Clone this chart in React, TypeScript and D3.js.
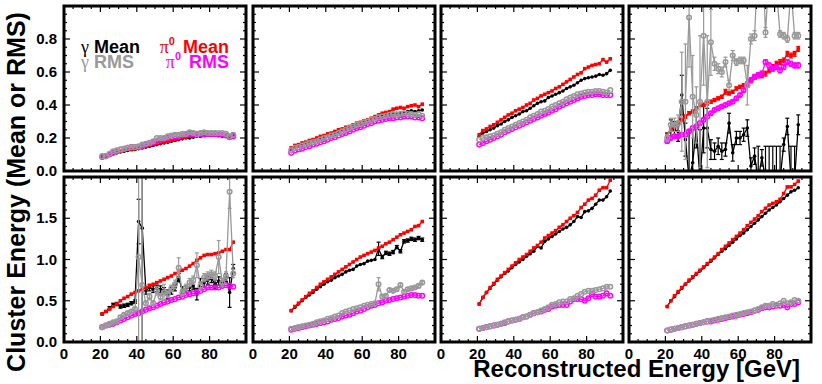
import React, { useEffect, useRef } from 'react';
import * as d3 from 'd3';

// reconstructed energy bin centres [GeV]
const energies = [21, 23, 25, 27, 29, 31, 33, 35, 37, 39, 41, 43, 45, 47, 49, 51, 53, 55, 57, 59, 61, 63, 65, 67, 69, 71, 73, 75, 77, 79, 81, 83, 85, 87, 89, 91, 93];

// top row, panel 1
const gMeanA = [.085, .09, .10, .105, .11, .115, .12, .125, .13, .13, .135, .14, .145, .15, .155, .16, .165, .17, .175, .18, .185, .19, .195, .20, .20, .205, .21, .21, .215, .215, .215, .215, .215, .21, .21, .205, .215];
const gRmsA = [.09, .09, .105, .12, .125, .13, .135, .14, .145, .145, .15, .16, .165, .17, .18, .20, .20, .20, .21, .215, .22, .22, .225, .225, .235, .23, .225, .23, .235, .23, .23, .23, .23, .23, .225, .21, .22];
const pMeanA = [.085, .09, .10, .11, .115, .12, .125, .13, .13, .135, .14, .145, .15, .155, .16, .165, .17, .175, .18, .185, .19, .195, .20, .205, .21, .21, .215, .215, .215, .22, .22, .22, .22, .22, .215, .215, .225];
const pRmsA = [.085, .09, .10, .11, .12, .13, .135, .14, .145, .145, .145, .15, .16, .17, .175, .18, .19, .195, .20, .205, .21, .21, .215, .22, .225, .225, .22, .225, .225, .225, .225, .225, .22, .22, .215, .205, .21];

// top row, panel 2
const gMeanB = [.135, .15, .155, .165, .17, .18, .19, .195, .205, .21, .22, .225, .235, .24, .25, .255, .265, .275, .28, .29, .30, .305, .31, .32, .325, .33, .335, .34, .345, .35, .35, .355, .36, .365, .36, .365, .37];
const gRmsB = [.125, .14, .145, .155, .16, .17, .175, .18, .19, .20, .205, .215, .22, .23, .24, .25, .26, .27, .28, .285, .295, .30, .31, .315, .325, .33, .335, .34, .345, .34, .345, .35, .345, .345, .34, .345, .335];
const pMeanB = [.14, .155, .16, .17, .175, .185, .19, .20, .21, .215, .225, .23, .24, .25, .255, .265, .27, .28, .29, .295, .305, .31, .32, .33, .34, .35, .355, .36, .375, .38, .385, .38, .39, .395, .40, .39, .405];
const pRmsB = [.11, .125, .13, .135, .145, .15, .16, .165, .175, .18, .19, .20, .205, .215, .225, .23, .24, .25, .26, .265, .275, .285, .29, .30, .305, .31, .315, .32, .32, .325, .325, .33, .33, .33, .325, .325, .32];

// top row, panel 3
const gMeanC = [.21, .23, .24, .25, .26, .275, .285, .30, .31, .325, .335, .345, .36, .365, .38, .395, .41, .42, .425, .445, .455, .465, .475, .485, .50, .51, .52, .535, .55, .56, .565, .57, .575, .585, .58, .59, .61];
const gRmsC = [.19, .20, .205, .21, .215, .225, .235, .25, .26, .27, .28, .29, .30, .31, .325, .335, .345, .36, .365, .375, .39, .40, .41, .42, .435, .445, .455, .465, .47, .475, .48, .48, .485, .485, .48, .475, .49];
const pMeanC = [.22, .245, .255, .27, .28, .295, .31, .325, .34, .35, .365, .375, .385, .40, .41, .43, .44, .455, .465, .475, .485, .50, .51, .525, .54, .555, .57, .585, .595, .62, .63, .64, .645, .65, .675, .66, .68];
const pRmsC = [.16, .17, .18, .19, .20, .21, .22, .235, .245, .255, .265, .275, .285, .295, .305, .315, .325, .335, .345, .355, .365, .375, .39, .40, .41, .42, .43, .44, .45, .455, .46, .46, .465, .465, .46, .46, .46];

// top row, panel 4
const gMeanD = [.21, .26, .25, .24, .46, .19, -.05, .05, .26, -.05, .26, .26, .13, .12, .15, .12, .13, .29, .11, .20, .20, .22, .26, .03, .09, -.05, .08, -.05, -.05, -.05, -.05, -.05, .16, .27, -.05, -.05, .28];
const gMeanErrD = [.02, .05, .05, .06, .12, .1, .3, .2, .12, .3, .15, .12, .06, .05, .05, .05, .04, .06, .05, .04, .04, .04, .05, .05, .05, .2, .05, .2, .2, .2, .2, .2, .04, .05, .2, .2, .06];
const gRmsD = [.20, .28, .28, .29, .42, .42, .93, .45, .34, .42, .82, .42, .78, .65, .62, .60, .66, .52, .70, .66, .67, .67, .52, .80, .82, 1.3, 1.4, .84, 1.2, 1.3, 1.1, .83, .82, .80, 1.1, .82, .82];
const gRmsErrD = [.02, .04, .04, .05, .3, .35, .3, .25, .17, .4, .3, .4, .2, .04, .03, .03, .03, .03, .03, .02, .02, .02, .12, .03, .03, .1, .1, .03, .1, .1, .1, .02, .02, .02, .1, .02, .02];
const pMeanD = [.22, .25, .27, .29, .31, .33, .35, .36, .38, .40, .40, .41, .42, .43, .44, .45, .48, .47, .48, .50, .51, .52, .53, .55, .57, .58, .58, .59, .61, .63, .65, .66, .67, .71, .70, .71, .74];
const pMeanErrD = [.01, .01, .01, .01, .01, .01, .01, .01, .01, .01, .01, .01, .01, .01, .01, .01, .015, .01, .01, .01, .01, .01, .01, .015, .015, .015, .015, .015, .015, .015, .015, .015, .015, .015, .015, .015, .015];
const pRmsD = [.18, .20, .21, .21, .22, .22, .24, .26, .27, .29, .31, .33, .35, .37, .38, .39, .40, .41, .42, .44, .46, .49, .52, .55, .57, .58, .59, .66, .64, .62, .63, .61, .63, .66, .65, .64, .64];
const pRmsErrD = [.01, .01, .01, .01, .01, .01, .01, .01, .01, .01, .01, .01, .01, .01, .01, .01, .01, .01, .01, .01, .01, .01, .01, .015, .015, .015, .015, .015, .015, .015, .015, .015, .015, .015, .015, .015, .015];

// bottom row, panel 1
const gMeanE = [.34, .37, .41, .45, .46, .43, .44, .45, .47, .49, 1.46, 1.38, .62, .66, .64, .65, .64, .62, .58, .62, .66, .78, .63, .64, .66, .68, .58, .72, .72, .75, .77, .70, .74, .72, .78, .60, .89];
const gMeanErrE = [.01, .01, .02, .02, .02, .02, .02, .02, .02, .02, .27, 1.6, .04, .04, .04, .04, .04, .04, .05, .04, .04, .05, .04, .04, .04, .04, .07, .05, .05, .05, .05, .05, .05, .05, .05, .18, .05];
const gRmsE = [.18, .20, .22, .24, .25, .30, .33, .35, .37, .40, 1.03, .69, .47, .55, .47, .62, .55, .60, .58, .65, .70, .90, .60, .66, .72, .75, .93, .68, .78, .80, .82, .80, 1.03, .72, .80, 1.82, .83];
const gRmsErrE = [.01, .01, .01, .01, .01, .02, .02, .02, .02, .02, 1.6, 1.6, .03, .04, .03, .05, .04, .1, .04, .04, .05, .12, .04, .04, .05, .05, .15, .05, .05, .05, .05, .05, .2, .05, .05, .2, .05];
const pMeanE = [.34, .37, .40, .43, .46, .50, .53, .55, .58, .60, .62, .64, .66, .68, .70, .72, .74, .76, .78, .80, .83, .85, .87, .89, .92, .95, .99, 1.02, 1.05, 1.06, 1.06, 1.07, 1.08, 1.10, 1.12, 1.12, 1.21];
const pRmsE = [.18, .20, .21, .22, .24, .26, .28, .30, .32, .34, .35, .37, .39, .41, .42, .44, .46, .48, .49, .51, .52, .54, .55, .57, .58, .59, .60, .62, .64, .66, .66, .66, .66, .68, .69, .68, .67];

// bottom row, panel 2
const gMeanF = [.38, .42, .46, .50, .54, .57, .60, .64, .67, .70, .73, .75, .78, .80, .82, .85, .87, .88, .92, .94, .95, .98, .99, 1.00, 1.13, 1.03, 1.08, 1.07, 1.09, 1.15, 1.10, 1.22, 1.23, 1.25, 1.24, 1.26, 1.24];
const gMeanErrF = [0, 0, 0, 0, 0, 0, 0, 0, 0, 0, 0, 0, 0, 0, 0, 0, 0, 0, 0, 0, 0, 0, 0, 0, .08, .02, .02, .02, .02, .02, .02, .02, .02, .02, .02, .02, .02];
const gRmsF = [.16, .17, .18, .19, .20, .21, .22, .24, .25, .26, .28, .29, .31, .32, .35, .37, .38, .40, .41, .42, .44, .45, .46, .47, .70, .55, .56, .63, .62, .64, .69, .61, .64, .65, .66, .68, .72];
const gRmsErrF = [0, 0, 0, 0, 0, 0, 0, 0, 0, 0, 0, 0, 0, 0, 0, 0, 0, 0, 0, 0, 0, 0, 0, 0, .08, .02, .02, .02, .02, .02, .02, .02, .02, .02, .02, .02, .02];
const pMeanF = [.38, .43, .47, .51, .55, .59, .62, .66, .70, .73, .76, .79, .82, .85, .88, .91, .94, .97, 1.00, 1.03, 1.05, 1.07, 1.09, 1.11, 1.14, 1.16, 1.19, 1.21, 1.24, 1.27, 1.30, 1.32, 1.34, 1.36, 1.40, 1.41, 1.46];
const pRmsF = [.15, .16, .17, .18, .19, .20, .21, .22, .23, .24, .25, .27, .28, .29, .31, .32, .33, .35, .37, .38, .40, .42, .44, .45, .47, .48, .50, .51, .52, .53, .54, .55, .56, .57, .57, .56, .56];

// bottom row, panel 3
const gMeanG = [.46, .54, .60, .65, .70, .75, .79, .83, .86, .90, .94, .97, 1.00, 1.04, 1.07, 1.10, 1.16, 1.14, 1.22, 1.25, 1.28, 1.31, 1.34, 1.37, 1.39, 1.42, 1.46, 1.52, 1.51, 1.58, 1.59, 1.62, 1.67, 1.72, 1.72, 1.76, 1.83];
const gRmsG = [.16, .17, .18, .19, .20, .21, .22, .24, .25, .26, .27, .28, .30, .31, .33, .35, .36, .38, .40, .42, .45, .46, .48, .49, .49, .52, .53, .56, .58, .61, .62, .62, .63, .64, .65, .67, .67];
const pMeanG = [.46, .54, .60, .66, .71, .76, .80, .84, .88, .92, .96, 1.00, 1.03, 1.06, 1.10, 1.14, 1.17, 1.21, 1.26, 1.29, 1.32, 1.35, 1.39, 1.42, 1.46, 1.50, 1.53, 1.57, 1.63, 1.67, 1.72, 1.74, 1.78, 1.84, 1.87, 1.87, 1.96];
const pRmsG = [.16, .17, .18, .19, .20, .21, .22, .23, .25, .26, .27, .28, .30, .31, .33, .35, .36, .37, .39, .40, .43, .44, .45, .45, .45, .49, .52, .52, .52, .50, .53, .58, .55, .55, .56, .59, .56];

// bottom row, panel 4
const gMeanH = [.43, .50, .55, .60, .65, .70, .74, .78, .82, .86, .90, .94, .98, 1.02, 1.06, 1.10, 1.13, 1.17, 1.21, 1.25, 1.29, 1.32, 1.36, 1.40, 1.44, 1.48, 1.52, 1.56, 1.60, 1.63, 1.66, 1.70, 1.74, 1.78, 1.82, 1.84, 1.87];
const gRmsH = [.14, .15, .16, .17, .18, .19, .20, .21, .22, .23, .24, .25, .26, .27, .28, .29, .30, .31, .32, .33, .34, .35, .36, .37, .38, .40, .42, .44, .44, .46, .45, .47, .50, .47, .48, .51, .50];
const pMeanH = [.43, .50, .56, .61, .66, .70, .75, .79, .83, .87, .91, .95, .99, 1.03, 1.07, 1.12, 1.16, 1.20, 1.24, 1.28, 1.32, 1.36, 1.41, 1.45, 1.49, 1.53, 1.58, 1.62, 1.66, 1.68, 1.70, 1.73, 1.80, 1.88, 1.88, 1.91, 1.95];
const pRmsH = [.14, .15, .16, .17, .18, .19, .20, .21, .22, .23, .24, .25, .25, .26, .27, .28, .29, .30, .31, .32, .33, .34, .35, .36, .38, .39, .41, .42, .42, .43, .44, .44, .45, .42, .46, .46, .48];

const xMajor = [0, 20, 40, 60, 80, 100];
const xLabels = ['0', '20', '40', '60', '80'];
const yMajorTop = [0, 0.2, 0.4, 0.6, 0.8, 1.0];
const yLabelsTop = ['0.0', '0.2', '0.4', '0.6', '0.8'];
const yMajorBottom = [0, 0.5, 1.0, 1.5, 2.0];
const yLabelsBottom = ['0.0', '0.5', '1.0', '1.5'];

const GAMMA_MEAN = '#000000';
const GAMMA_RMS = '#999999';
const PI_MEAN = '#ff0000';
const PI_RMS = '#ff00ff';

const panels = [
  { gm: gMeanA, gr: gRmsA, pm: pMeanA, pr: pRmsA },
  { gm: gMeanB, gr: gRmsB, pm: pMeanB, pr: pRmsB },
  { gm: gMeanC, gr: gRmsC, pm: pMeanC, pr: pRmsC },
  { gm: gMeanD, gr: gRmsD, pm: pMeanD, pr: pRmsD, gmErr: gMeanErrD, grErr: gRmsErrD, pmErr: pMeanErrD, prErr: pRmsErrD },
  { gm: gMeanE, gr: gRmsE, pm: pMeanE, pr: pRmsE, gmErr: gMeanErrE, grErr: gRmsErrE },
  { gm: gMeanF, gr: gRmsF, pm: pMeanF, pr: pRmsF, gmErr: gMeanErrF, grErr: gRmsErrF },
  { gm: gMeanG, gr: gRmsG, pm: pMeanG, pr: pRmsG },
  { gm: gMeanH, gr: gRmsH, pm: pMeanH, pr: pRmsH },
];

const W = 822;
const H = 384;
const colX = [64, 253, 441, 629];
const rowY = [6, 177];
const PW = 182;
const PH = 165;
const SANS = '"Liberation Sans", Arial, Helvetica, sans-serif';
const SERIF = '"Liberation Serif", "Times New Roman", serif';

const App = () => {
  const svgRef = useRef(null);

  useEffect(() => {
    const svg = d3.select(svgRef.current);
    svg.selectAll('*').remove();

    panels.forEach((p, i) => {
      const col = i % 4;
      const row = Math.floor(i / 4);
      const x0 = colX[col];
      const y0 = rowY[row];
      const x = d3.scaleLinear().domain([0, 100]).range([x0, x0 + PW]);
      const y = d3.scaleLinear().domain(row === 0 ? [0, 1] : [0, 2]).range([y0 + PH, y0]);

      const clipId = `clip-${i}`;
      svg.append('clipPath').attr('id', clipId)
        .append('rect').attr('x', x0).attr('y', y0).attr('width', PW).attr('height', PH);

      const g = svg.append('g').attr('clip-path', `url(#${clipId})`);

      const series = [
        { v: p.gm, e: p.gmErr, color: GAMMA_MEAN, marker: 'dot' },
        { v: p.pm, e: p.pmErr, color: PI_MEAN, marker: 'square' },
        { v: p.pr, e: p.prErr, color: PI_RMS, marker: 'ring' },
        { v: p.gr, e: p.grErr, color: GAMMA_RMS, marker: 'ring' },
      ];

      series.forEach(s => {
        const pts = energies.map((e, k) => ({ x: e, y: s.v[k], err: s.e ? s.e[k] : 0 }));
        const line = d3.line().x(d => x(d.x)).y(d => y(d.y));

        g.append('path').datum(pts)
          .attr('d', line)
          .attr('fill', 'none')
          .attr('stroke', s.color)
          .attr('stroke-width', 1.3);

        pts.filter(d => d.err > 0).forEach(d => {
          const cx = x(d.x);
          g.append('line')
            .attr('x1', cx).attr('x2', cx)
            .attr('y1', y(d.y - d.err)).attr('y2', y(d.y + d.err))
            .attr('stroke', s.color).attr('stroke-width', 1.2);
          [d.y - d.err, d.y + d.err].forEach(v => {
            g.append('line')
              .attr('x1', cx - 2).attr('x2', cx + 2)
              .attr('y1', y(v)).attr('y2', y(v))
              .attr('stroke', s.color).attr('stroke-width', 1.2);
          });
        });

        if (s.marker === 'dot') {
          g.selectAll(null).data(pts).enter().append('circle')
            .attr('cx', d => x(d.x)).attr('cy', d => y(d.y)).attr('r', 1.8)
            .attr('fill', s.color);
        } else if (s.marker === 'square') {
          g.selectAll(null).data(pts).enter().append('rect')
            .attr('x', d => x(d.x) - 1.8).attr('y', d => y(d.y) - 1.8)
            .attr('width', 3.6).attr('height', 3.6)
            .attr('fill', s.color);
        } else {
          g.selectAll(null).data(pts).enter().append('circle')
            .attr('cx', d => x(d.x)).attr('cy', d => y(d.y)).attr('r', 2.3)
            .attr('fill', 'none')
            .attr('stroke', s.color).attr('stroke-width', 1.5);
        }
      });

      // ticks on all four sides, pointing inwards
      const ax = svg.append('g').attr('stroke', '#000').attr('stroke-width', 1.2);
      const xMinor = d3.range(0, 101, 5);
      xMinor.forEach(t => {
        const len = xMajor.includes(t) ? 6 : 3;
        ax.append('line').attr('x1', x(t)).attr('x2', x(t)).attr('y1', y0 + PH).attr('y2', y0 + PH - len);
        ax.append('line').attr('x1', x(t)).attr('x2', x(t)).attr('y1', y0).attr('y2', y0 + len);
      });
      const yMajor = row === 0 ? yMajorTop : yMajorBottom;
      const yMinor = row === 0 ? d3.range(0, 21).map(k => k * 0.05) : d3.range(0, 21).map(k => k * 0.1);
      yMinor.forEach(t => {
        const isMajor = yMajor.some(m => Math.abs(m - t) < 1e-6);
        const len = isMajor ? 6 : 3;
        ax.append('line').attr('x1', x0).attr('x2', x0 + len).attr('y1', y(t)).attr('y2', y(t));
        ax.append('line').attr('x1', x0 + PW).attr('x2', x0 + PW - len).attr('y1', y(t)).attr('y2', y(t));
      });

      svg.append('rect')
        .attr('x', x0).attr('y', y0).attr('width', PW).attr('height', PH)
        .attr('fill', 'none').attr('stroke', '#000').attr('stroke-width', 3);

      if (col === 0) {
        const labels = row === 0 ? yLabelsTop : yLabelsBottom;
        labels.forEach((lab, k) => {
          svg.append('text')
            .attr('x', x0 - 7).attr('y', y(yMajor[k]) + 5)
            .attr('text-anchor', 'end')
            .attr('font-family', SANS).attr('font-weight', 'bold').attr('font-size', 15)
            .text(lab);
        });
      }
      if (row === 1) {
        xLabels.forEach((lab, k) => {
          svg.append('text')
            .attr('x', x(xMajor[k])).attr('y', y0 + PH + 17)
            .attr('text-anchor', 'middle')
            .attr('font-family', SANS).attr('font-weight', 'bold').attr('font-size', 15)
            .text(lab);
        });
      }
    });

    // legend in first panel: symbol (with optional superscript) and word as separate texts
    const legend = [
      { sym: 'γ', word: 'Mean', color: GAMMA_MEAN, left: 81, y: 53, sup: false },
      { sym: 'γ', word: 'RMS', color: GAMMA_RMS, left: 81, y: 68, sup: false },
      { sym: 'π', word: 'Mean', color: PI_MEAN, right: 229, y: 53, sup: true },
      { sym: 'π', word: 'RMS', color: PI_RMS, right: 229, y: 68, sup: true },
    ];
    legend.forEach(l => {
      const symText = svg.append('text')
        .attr('y', l.y).attr('fill', l.color).attr('font-size', 18);
      symText.append('tspan').attr('font-family', SERIF).text(l.sym);
      if (l.sup) {
        symText.append('tspan').attr('font-family', SANS).attr('font-weight', 'bold')
          .attr('font-size', 11).attr('dy', -8).text('0');
      }
      const wordText = svg.append('text')
        .attr('y', l.y).attr('fill', l.color)
        .attr('font-family', SANS).attr('font-weight', 'bold').attr('font-size', 18)
        .text(l.word);
      const symW = symText.node().getComputedTextLength();
      const wordW = wordText.node().getComputedTextLength();
      if (l.left !== undefined) {
        symText.attr('x', l.left);
        wordText.attr('x', l.left + symW + 5);
      } else {
        wordText.attr('x', l.right - wordW);
        symText.attr('x', l.right - wordW - 8 - symW);
      }
    });

    svg.append('text')
      .attr('transform', 'translate(25,192) rotate(-90)')
      .attr('text-anchor', 'middle')
      .attr('font-family', SANS).attr('font-weight', 'bold').attr('font-size', 25)
      .text('Cluster Energy (Mean or RMS)');

    svg.append('text')
      .attr('x', 800).attr('y', 377)
      .attr('text-anchor', 'end')
      .attr('font-family', SANS).attr('font-weight', 'bold').attr('font-size', 24)
      .text('Reconstructed Energy [GeV]');
  }, []);

  return (
    <svg ref={svgRef} width={W} height={H}
      style={{ position: 'absolute', left: 0, top: 0, background: '#fff' }} />
  );
};

export default App;
